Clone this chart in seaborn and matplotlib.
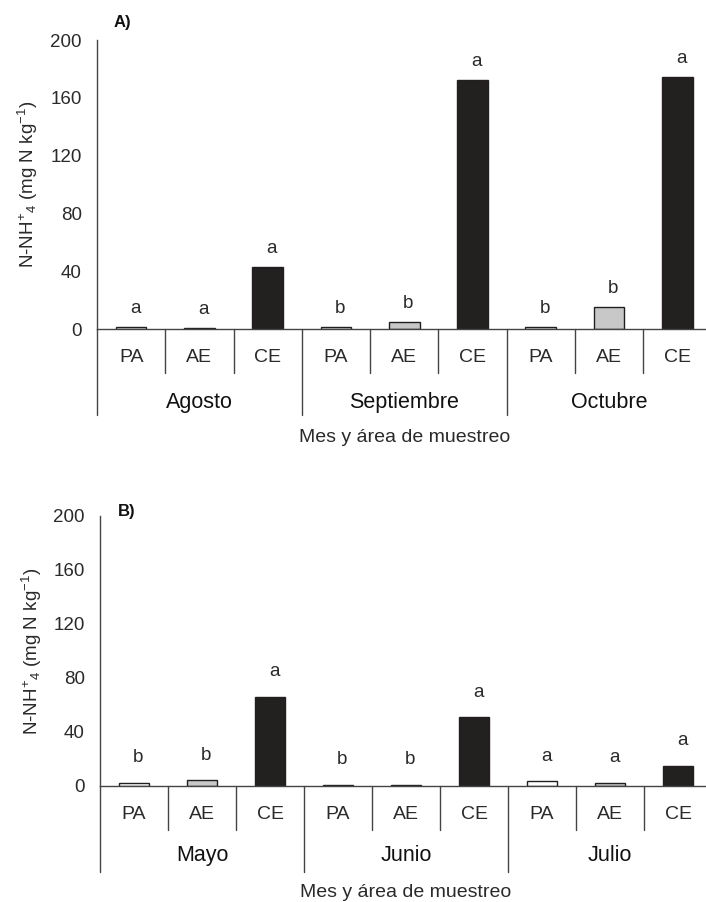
import matplotlib
matplotlib.use("Agg")
import matplotlib.pyplot as plt
import pandas as pd
import seaborn as sns

months_a = ["Agosto", "Septiembre", "Octubre"]
months_b = ["Mayo", "Junio", "Julio"]
areas = ["PA", "AE", "CE"]

# N-NH4+ (mg N kg-1), ordered PA, AE, CE within each month
values_a = [1.5, 0.8, 43.0, 1.5, 5.0, 172.5, 1.5, 15.5, 174.5]
values_b = [2.4, 4.4, 66.0, 1.0, 1.0, 51.0, 3.5, 2.4, 15.0]
letters_a = ["a", "a", "a", "b", "b", "a", "b", "b", "a"]
letters_b = ["b", "b", "a", "b", "b", "a", "a", "a", "a"]

yticks = [0, 40, 80, 120, 160, 200]
palette = {"PA": "#ffffff", "AE": "#c8c8c8", "CE": "#231f20"}
ink = "#2a2a2a"


def build_frame(months, values, letters):
    rows = []
    i = 0
    for month in months:
        for area in areas:
            rows.append({"key": f"{month}-{area}", "month": month, "area": area,
                         "value": values[i], "letter": letters[i]})
            i += 1
    return pd.DataFrame(rows)


def draw_panel(ax, data, panel_label, layout):
    sns.barplot(data=data, x="key", y="value", hue="area", palette=palette,
                order=data["key"].tolist(), hue_order=areas, dodge=False,
                width=0.45, edgecolor="#231f20", linewidth=1.0, legend=False, ax=ax)
    ax.set_ylim(0, 200)
    ax.set_xlim(-0.5, layout["xmax"])
    ax.set_yticks(yticks)
    ax.set_yticklabels([str(t) for t in yticks], fontsize=13.5, color=ink)
    ax.tick_params(axis="y", direction="out", length=7, width=1, color="#444444", pad=4)
    ax.set_xticks([])
    ax.set_xlabel("")
    ax.set_ylabel(r"N-NH$^{+}$$_{4}$ (mg N kg$^{-1}$)", fontsize=13.5, color=ink, labelpad=7)
    for side in ["top", "right"]:
        ax.spines[side].set_visible(False)
    for side in ["left", "bottom"]:
        ax.spines[side].set_color("#444444")
        ax.spines[side].set_linewidth(1.0)

    # significance letters above bars
    for i, row in data.reset_index(drop=True).iterrows():
        ax.annotate(row["letter"], (i, row["value"]), xytext=(3, layout["letter_off"]),
                    textcoords="offset points", ha="center", va="center",
                    fontsize=13.5, color=ink)

    # two-level category axis drawn below the plot
    trans = ax.get_xaxis_transform()
    n = len(data)
    for i in range(n + 1):
        x = i - 0.5
        low = layout["long"] if i % 3 == 0 else layout["short"]
        ax.plot([x, x], [0, low], transform=trans, color="#444444", lw=1.0, clip_on=False)
    for i, row in data.reset_index(drop=True).iterrows():
        ax.text(i, layout["cat_y"], row["area"], transform=trans, ha="center",
                va="center", fontsize=14, color=ink)
    for j, month in enumerate(data["month"].unique()):
        ax.text(3 * j + 1, layout["month_y"], month, transform=trans, ha="center",
                va="center", fontsize=15.5, color="#111111")
    ax.text(4, layout["xlabel_y"], "Mes y área de muestreo", transform=trans,
            ha="center", va="center", fontsize=14, color=ink)
    ax.text(layout["panel_x"], layout["panel_y"], panel_label, transform=ax.transAxes,
            ha="left", va="center", fontsize=12, fontweight="bold", color="#111111")


sns.set_theme(style="white")
plt.rcParams["font.family"] = ["Liberation Sans", "DejaVu Sans"]
plt.rcParams["mathtext.default"] = "regular"

W, H = 706, 902
fig = plt.figure(figsize=(W / 100, H / 100), dpi=100)

ax_a = fig.add_axes([97 / W, 1 - 329 / H, 1 - 97 / W, 289 / H])
ax_b = fig.add_axes([100 / W, 1 - 786 / H, 1 - 100 / W, 270 / H])

draw_panel(ax_a, build_frame(months_a, values_a, letters_a), "A)",
           {"xmax": 8.42, "letter_off": 13, "short": -0.152, "long": -0.298,
            "cat_y": -0.100, "month_y": -0.253, "xlabel_y": -0.374,
            "panel_x": 0.027, "panel_y": 1.06})
draw_panel(ax_b, build_frame(months_b, values_b, letters_b), "B)",
           {"xmax": 8.41, "letter_off": 18, "short": -0.163, "long": -0.317,
            "cat_y": -0.107, "month_y": -0.256, "xlabel_y": -0.396,
            "panel_x": 0.030, "panel_y": 1.015})

fig.savefig("out.png", dpi=100)
plt.close(fig)
